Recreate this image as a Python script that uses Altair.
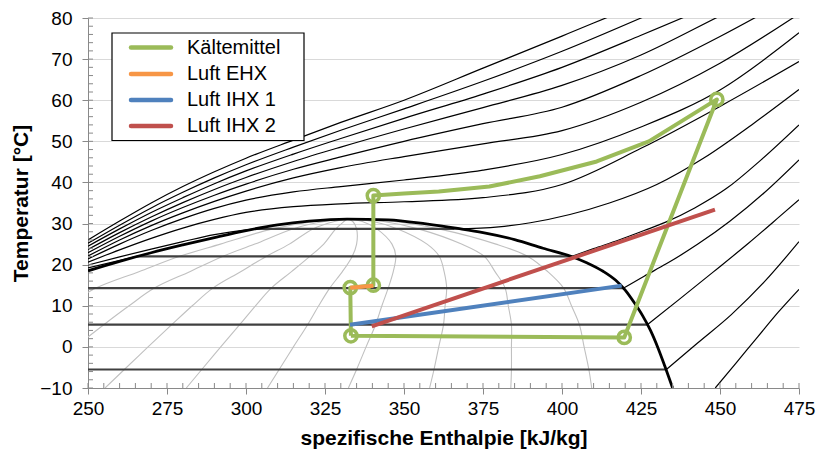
import altair as alt
import pandas as pd

# ---------------- axes ----------------
X_TICKS = [250, 275, 300, 325, 350, 375, 400, 425, 450, 475]
Y_TICKS = [-10, 0, 10, 20, 30, 40, 50, 60, 70, 80]
X_MINOR = list(range(250, 476, 5))
Y_MINOR = list(range(-10, 81, 2))

# ---------------- saturation dome ----------------
DOME_H = [250, 260, 270, 280, 290, 300, 310, 320, 332, 345, 357, 367, 375, 385, 394, 403,
          408, 413, 417, 420, 423, 425.5, 428, 430.5, 432.5, 434, 435]
DOME_T = [18.5, 20.8, 22.9, 24.8, 26.6, 28.3, 29.7, 30.6, 31.1, 30.9, 29.9, 28.8, 27.8, 26.1, 24.0, 22.0,
          20.4, 18.4, 16.2, 13.8, 10.6, 7.6, 4.0, -0.5, -4.6, -7.8, -10.0]

# two-phase isobars (horizontal)
TP_T = [-5.5, 5.4, 14.3, 22.0, 28.7]
TP_H_LIQ = [188, 212, 234, 265.5, 302.9]
TP_H_VAP = [433, 427, 419.5, 403, 366]

# vapour quality lines x = 0.1 ... 0.9
Q_T = [-10, -5.5, 0, 5.4, 10, 14.3, 18.3, 22, 25, 28.7, 30.5, 31.1]
Q10 = [204.1, 212.5, 223, 233.5, 243, 252.5, 266.1, 278.8, 291.9, 308.4, 321.7, 332]
Q20 = [229.7, 237, 246, 255, 263, 271, 282.2, 292.6, 302.8, 314.8, 324.8, 332]
Q30 = [255.4, 261.5, 269, 276.5, 283, 289.5, 298.3, 306.4, 313.7, 321.2, 328, 332]
Q40 = [281.1, 286, 292, 298, 303, 308, 314.4, 320.2, 324.6, 328.4, 331.0, 332]
Q50 = [306.8, 310.5, 315, 319.5, 323, 326.5, 330.5, 333.6, 335.0, 335.0, 333.8, 332]
Q60 = [332.4, 335, 338, 341, 343, 345, 346.6, 347.4, 346.2, 341.4, 336.8, 332]
Q70 = [358.1, 359.5, 361, 362.5, 363, 363.5, 362.7, 361.2, 357.3, 348.0, 340.2, 332]
Q80 = [383.8, 384, 384, 384, 383, 382, 378.8, 375.4, 368.2, 354.5, 343.5, 332]
Q90 = [409.4, 408.5, 407, 405.5, 403, 400.5, 395.5, 389.2, 379.1, 361.0, 346.9, 332]

# isobars: liquid branches
LIQ60_H = [250, 265.5]
LIQ60_T = [19.2, 22.0]
LIQ70_H = [250, 260, 270, 280, 290, 302.9]
LIQ70_T = [19.9, 21.9, 23.8, 25.6, 27.3, 28.7]

# isobars: vapour branches
VAP20_H = [448.5, 455, 462, 468.5, 475]
VAP20_T = [-10, -4, 2.5, 8.5, 14.0]
VAP30_H = [433, 443, 453.5, 464, 475]
VAP30_T = [-5.5, 1.0, 7.8, 15.8, 25.6]
VAP40_H = [427, 437, 448, 459, 469, 475]
VAP40_T = [5.4, 11.5, 18.3, 25.2, 31.8, 35.8]
VAP50_H = [419.5, 426, 433, 443, 453, 464, 475]
VAP50_T = [14.3, 17.2, 20.2, 25.0, 30.5, 37.5, 45.5]
VAP60_H = [403, 410, 418, 426, 433, 442, 452, 463, 475]
VAP60_T = [22.0, 23.9, 26.0, 28.3, 30.4, 33.8, 38.5, 45.5, 54.0]
VAP70_H = [366, 380, 390, 402.5, 415, 430, 445, 460, 475]
VAP70_T = [28.7, 29.2, 30.2, 32.2, 35.0, 39.5, 46.0, 54.0, 62.6]

# supercritical isobars on a common enthalpy grid
SC_H = [250, 260, 270, 280, 290, 300, 315, 330, 350, 375, 400, 425, 450, 475]
SC80 = [20.6, 23.6, 26.4, 28.9, 31.0, 32.7, 34.1, 34.8, 35.3, 36.3, 39.5, 48.3, 58.5, 69.4]
SC90 = [21.4, 25.0, 28.3, 31.2, 33.7, 35.7, 37.7, 39.0, 40.6, 43.0, 46.8, 53.5, 62.5, 76.4]
SC100 = [22.1, 26.0, 29.5, 32.6, 35.4, 37.9, 41.1, 43.6, 46.3, 49.4, 52.6, 59.5, 69.0, 81.0]
SC110 = [22.9, 26.9, 30.6, 33.9, 36.9, 39.6, 43.2, 46.2, 50.0, 54.3, 58.3, 66.0, 75.5, 86.0]
SC120 = [23.7, 27.8, 31.6, 35.1, 38.3, 41.2, 45.1, 48.6, 53.0, 58.2, 63.6, 71.0, 80.5, 90.0]
SC130 = [24.5, 28.7, 32.7, 36.3, 39.7, 42.8, 46.9, 50.7, 55.6, 61.5, 68.0, 75.8, 84.0, 93.0]
SC140 = [25.2, 29.6, 33.8, 37.6, 41.1, 44.3, 48.6, 52.7, 57.9, 64.6, 71.9, 80.0, 88.5, 97.0]
SC150 = [26.0, 30.6, 35.0, 39.0, 42.6, 45.9, 50.3, 54.6, 60.0, 67.8, 75.6, 83.5, 91.0, 99.0]

# refrigerant cycle and air lines
KM_H = [333.2, 419.7, 449.0, 427.5, 411.0, 393.0, 377.0, 361.0, 350.0, 340.3, 340.3, 333.0, 333.2]
KM_T = [2.7, 2.3, 60.2, 50.0, 45.1, 41.5, 39.0, 37.8, 37.3, 36.8, 15.0, 14.4, 2.7]
KM_MARK_H = [333.2, 419.7, 449.0, 340.3, 340.3, 333.0]
KM_MARK_T = [2.7, 2.3, 60.2, 36.8, 15.0, 14.4]
EHX_H = [333.0, 340.3]
EHX_T = [14.4, 14.9]
IHX1_H = [332.9, 418.9]
IHX1_T = [5.4, 14.9]
IHX2_H = [339.8, 448.4]
IHX2_T = [5.0, 33.4]

LEG_LABELS = ["Kältemittel", "Luft EHX", "Luft IHX 1", "Luft IHX 2"]
LEG_COLORS = ["#9BBB59", "#F79646", "#4F81BD", "#C0504D"]

FONT = "Liberation Sans"

# ---------------- tables ----------------
def frame(hs, ts, ident):
    return pd.DataFrame({"h": hs, "T": ts, "id": ident, "i": list(range(len(hs)))})

quality = pd.concat([frame(q, Q_T, n) for q, n in
                     [(Q10, "q1"), (Q20, "q2"), (Q30, "q3"), (Q40, "q4"), (Q50, "q5"),
                      (Q60, "q6"), (Q70, "q7"), (Q80, "q8"), (Q90, "q9")]])
twophase = pd.concat([frame([a, b], [t, t], f"tp{k}") for k, (a, b, t) in
                      enumerate(zip(TP_H_LIQ, TP_H_VAP, TP_T))])
isobars = pd.concat(
    [frame(LIQ60_H, LIQ60_T, "l60"), frame(LIQ70_H, LIQ70_T, "l70"),
     frame(VAP20_H, VAP20_T, "v20"), frame(VAP30_H, VAP30_T, "v30"),
     frame(VAP40_H, VAP40_T, "v40"), frame(VAP50_H, VAP50_T, "v50"),
     frame(VAP60_H, VAP60_T, "v60"), frame(VAP70_H, VAP70_T, "v70")]
    + [frame(SC_H, s, n) for s, n in [(SC80, "s80"), (SC90, "s90"), (SC100, "s100"),
                                      (SC110, "s110"), (SC120, "s120"), (SC130, "s130"),
                                      (SC140, "s140"), (SC150, "s150")]])
dome = frame(DOME_H, DOME_T, "dome")

series = pd.concat([
    frame(KM_H, KM_T, LEG_LABELS[0]),
    frame(EHX_H, EHX_T, LEG_LABELS[1]),
    frame(IHX1_H, IHX1_T, LEG_LABELS[2]),
    frame(IHX2_H, IHX2_T, LEG_LABELS[3]),
])
markers = pd.DataFrame({"h": KM_MARK_H, "T": KM_MARK_T})

# ---------------- encodings ----------------
X = alt.X("h:Q", scale=alt.Scale(domain=[250, 475], nice=False, zero=False),
          axis=alt.Axis(values=X_TICKS, title="spezifische Enthalpie [kJ/kg]", grid=False,
                        tickSize=6, labelPadding=5, titlePadding=9, labelFontSize=19,
                        titleFontSize=21, titleFontWeight="bold", labelFlush=False))
Y = alt.Y("T:Q", scale=alt.Scale(domain=[-10, 80], nice=False, zero=False),
          axis=alt.Axis(values=Y_TICKS, title="Temperatur [°C]", grid=True, gridColor="#D9D9D9",
                        tickSize=6, labelPadding=10, titlePadding=8, labelFontSize=19,
                        titleFontSize=21, titleFontWeight="bold", labelFlush=False))
COLOR = alt.Color("id:N", scale=alt.Scale(domain=LEG_LABELS, range=LEG_COLORS), legend=None)

layers = []
layers.append(alt.Chart(quality).mark_line(color="#C0C0C0", strokeWidth=1.1, clip=True,
                                           interpolate="catmull-rom")
              .encode(x=X, y=Y, detail="id:N", order="i:Q"))
layers.append(alt.Chart(twophase).mark_line(color="#404040", strokeWidth=2.2, clip=True)
              .encode(x=X, y=Y, detail="id:N", order="i:Q"))
layers.append(alt.Chart(isobars).mark_line(color="#000000", strokeWidth=1.2, clip=True,
                                           interpolate="monotone")
              .encode(x=X, y=Y, detail="id:N", order="i:Q"))
layers.append(alt.Chart(dome).mark_line(color="#000000", strokeWidth=2.8, clip=True,
                                        interpolate="monotone")
              .encode(x=X, y=Y, order="i:Q"))
# minor / inner ticks
layers.append(alt.Chart(pd.DataFrame({"h": X_MINOR})).mark_rule(color="#898989", strokeWidth=1)
              .encode(x=X, y=alt.value(370), y2=alt.value(365)))
layers.append(alt.Chart(pd.DataFrame({"T": Y_MINOR})).mark_rule(color="#898989", strokeWidth=1)
              .encode(y=Y, x=alt.value(0), x2=alt.value(5)))
# cycle
layers.append(alt.Chart(series[series.id == LEG_LABELS[0]]).mark_line(strokeWidth=4, strokeJoin="round")
              .encode(x=X, y=Y, color=COLOR, order="i:Q"))
layers.append(alt.Chart(markers).mark_point(shape="circle", filled=False, size=150, strokeWidth=3.5,
                                            color=LEG_COLORS[0], opacity=1)
              .encode(x=X, y=Y))
layers.append(alt.Chart(series[series.id != LEG_LABELS[0]]).mark_line(strokeWidth=4)
              .encode(x=X, y=Y, color=COLOR, detail="id:N", order="i:Q"))

# legend box
one = alt.Data(values=[{"k": 0}])
layers.append(alt.Chart(one).mark_rect(fill="white", stroke="black", strokeWidth=1.2)
              .encode(x=alt.value(24), x2=alt.value(216), y=alt.value(15), y2=alt.value(122.5)))
LEG_Y = [29.5, 56, 82, 108]
for lab, col, yy in zip(LEG_LABELS, LEG_COLORS, LEG_Y):
    layers.append(alt.Chart(one).mark_rule(color=col, strokeWidth=4.5, strokeCap="round")
                  .encode(x=alt.value(43), x2=alt.value(83), y=alt.value(yy)))
    layers.append(alt.Chart(one).mark_text(text=lab, align="left", baseline="middle", fontSize=20,
                                           font=FONT, color="black")
                  .encode(x=alt.value(99), y=alt.value(yy)))

chart = (alt.layer(*layers)
         .properties(width=711, height=370, autosize=alt.AutoSizeParams(type="none"),
                     padding={"left": 88, "top": 18, "right": 19, "bottom": 67})
         .configure_axis(labelFont=FONT, titleFont=FONT, labelColor="black", titleColor="black",
                         domainColor="#898989", tickColor="#898989", domainWidth=1)
         .configure_view(stroke=None))

chart.save("out.html", embed_options={"renderer": "svg", "actions": False})
